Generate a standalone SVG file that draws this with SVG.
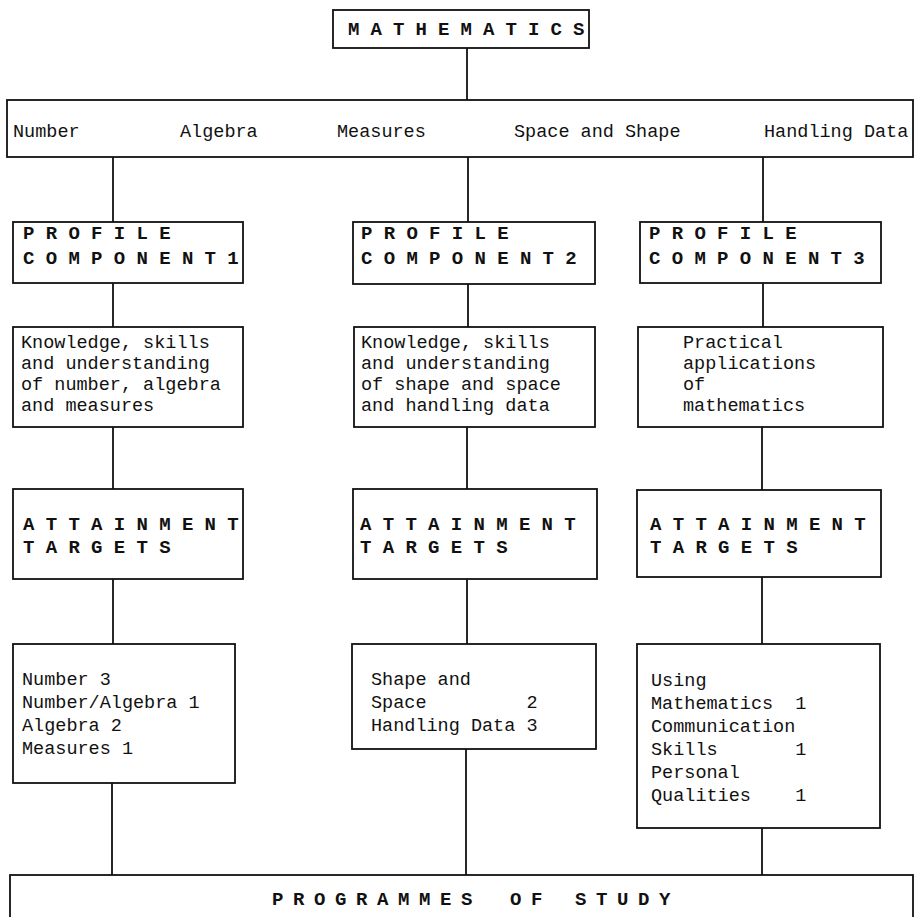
<svg xmlns="http://www.w3.org/2000/svg" width="914" height="917" viewBox="0 0 914 917">
<style>
.box{fill:#fff;stroke:#111;stroke-width:1.8}
.ln{fill:none;stroke:#111;stroke-width:1.8}
.hd{font-family:"Liberation Mono","DejaVu Sans Mono",monospace;font-size:19px;font-weight:bold;letter-spacing:11.3px;fill:#111}
.tx{font-family:"Liberation Mono","DejaVu Sans Mono",monospace;font-size:18.5px;fill:#111;white-space:pre}
</style>
<rect width="914" height="917" fill="#fff"/>
<g id="connectors">
<path class="ln" d="M467 48V100"/>
<path class="ln" d="M113 157V222M468 157V222M763 157V222"/>
<path class="ln" d="M113 283V327M468 284V327M763 283V327"/>
<path class="ln" d="M113 427V489M467 427V489M762 427V490"/>
<path class="ln" d="M113 579V644M467 579V644M762 577V644"/>
<path class="ln" d="M112 783V875M466 749V875M762 828V875"/>
</g>
<g id="mathematics">
<rect class="box" x="333" y="10" width="256" height="38"/>
<text class="hd" x="348" y="35" style="letter-spacing:11.1px">MATHEMATICS</text>
</g>
<g id="areas">
<rect class="box" x="7" y="100" width="906" height="57"/>
<text class="tx" x="13" y="137">Number</text>
<text class="tx" x="180" y="137">Algebra</text>
<text class="tx" x="337" y="137">Measures</text>
<text class="tx" x="514" y="137">Space and Shape</text>
<text class="tx" x="764" y="137">Handling Data</text>
</g>
<g id="pc1">
<rect class="box" x="13" y="222" width="230" height="61"/>
<text class="hd" x="23" y="239">PROFILE</text>
<text class="hd" x="23" y="264">COMPONENT1</text>
</g>
<g id="pc2">
<rect class="box" x="353" y="222" width="242" height="62"/>
<text class="hd" x="361" y="239">PROFILE</text>
<text class="hd" x="361" y="264">COMPONENT2</text>
</g>
<g id="pc3">
<rect class="box" x="640" y="222" width="241" height="61"/>
<text class="hd" x="649" y="239">PROFILE</text>
<text class="hd" x="649" y="264">COMPONENT3</text>
</g>
<g id="desc1">
<rect class="box" x="13" y="327" width="230" height="100"/>
<text class="tx" x="21" y="348">Knowledge, skills</text>
<text class="tx" x="21" y="369">and understanding</text>
<text class="tx" x="21" y="390">of number, algebra</text>
<text class="tx" x="21" y="411">and measures</text>
</g>
<g id="desc2">
<rect class="box" x="354" y="327" width="241" height="100"/>
<text class="tx" x="361" y="348">Knowledge, skills</text>
<text class="tx" x="361" y="369">and understanding</text>
<text class="tx" x="361" y="390">of shape and space</text>
<text class="tx" x="361" y="411">and handling data</text>
</g>
<g id="desc3">
<rect class="box" x="638" y="327" width="245" height="100"/>
<text class="tx" x="683" y="348">Practical</text>
<text class="tx" x="683" y="369">applications</text>
<text class="tx" x="683" y="390">of</text>
<text class="tx" x="683" y="411">mathematics</text>
</g>
<g id="at1">
<rect class="box" x="13" y="489" width="230" height="90"/>
<text class="hd" x="23" y="530">ATTAINMENT</text>
<text class="hd" x="23" y="553">TARGETS</text>
</g>
<g id="at2">
<rect class="box" x="353" y="489" width="244" height="90"/>
<text class="hd" x="360" y="530">ATTAINMENT</text>
<text class="hd" x="360" y="553">TARGETS</text>
</g>
<g id="at3">
<rect class="box" x="637" y="490" width="244" height="87"/>
<text class="hd" x="650" y="530">ATTAINMENT</text>
<text class="hd" x="650" y="553">TARGETS</text>
</g>
<g id="targets1">
<rect class="box" x="13" y="644" width="222" height="139"/>
<text class="tx" x="22" y="685">Number 3</text>
<text class="tx" x="22" y="708">Number/Algebra 1</text>
<text class="tx" x="22" y="731">Algebra 2</text>
<text class="tx" x="22" y="754">Measures 1</text>
</g>
<g id="targets2">
<rect class="box" x="352" y="644" width="244" height="105"/>
<text class="tx" x="371" y="685">Shape and</text>
<text class="tx" x="371" y="708">Space         2</text>
<text class="tx" x="371" y="731">Handling Data 3</text>
</g>
<g id="targets3">
<rect class="box" x="637" y="644" width="243" height="184"/>
<text class="tx" x="651" y="686">Using</text>
<text class="tx" x="651" y="709">Mathematics  1</text>
<text class="tx" x="651" y="732">Communication</text>
<text class="tx" x="651" y="755">Skills       1</text>
<text class="tx" x="651" y="778">Personal</text>
<text class="tx" x="651" y="801">Qualities    1</text>
</g>
<g id="programmes">
<rect class="box" x="10" y="875" width="903" height="60"/>
<text class="hd" x="272" y="905" style="letter-spacing:9.6px">PROGRAMMES</text>
<text class="hd" x="510" y="905" style="letter-spacing:9.6px">OF</text>
<text class="hd" x="575" y="905" style="letter-spacing:9.6px">STUDY</text>
</g>
</svg>
